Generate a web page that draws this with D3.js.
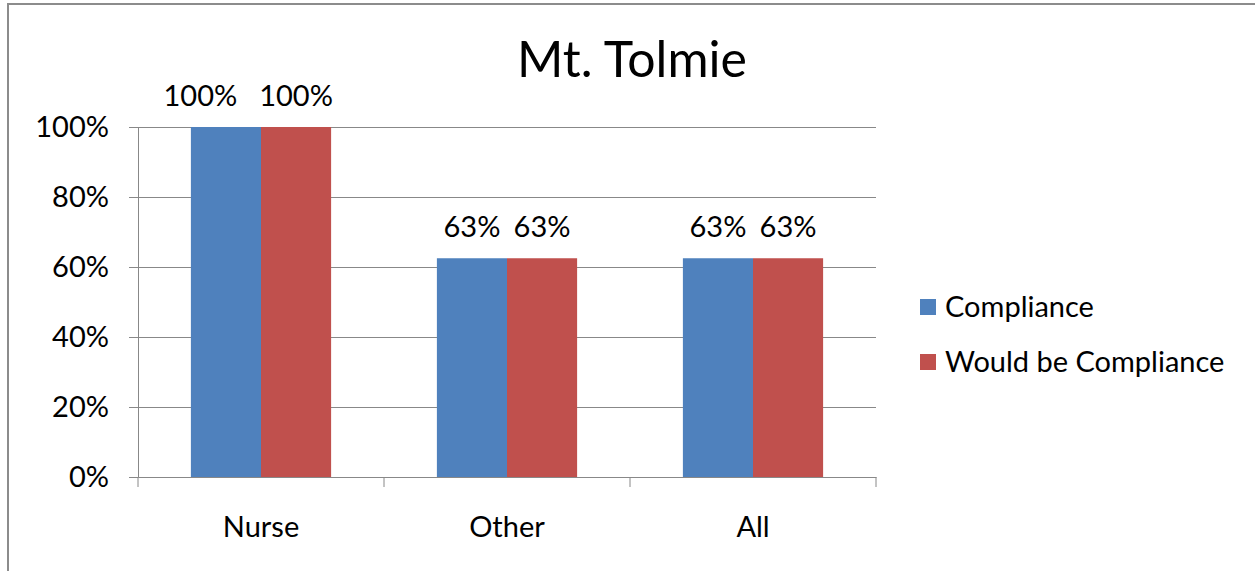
<!DOCTYPE html>
<html><head><meta charset="utf-8">
<script src="https://cdn.jsdelivr.net/npm/d3@7"></script>
<style>body{margin:0;background:#fff}svg{display:block}text{font-family:Lato,"Open Sans",sans-serif;fill:#000}</style>
</head><body>
<script>
const title = "Mt. Tolmie";
const categories = ["Nurse", "Other", "All"];
const seriesNames = ["Compliance", "Would be Compliance"];
const compliance = [1.0, 0.625, 0.625];
const wouldBeCompliance = [1.0, 0.625, 0.625];
const valueLabels = [["100%", "63%", "63%"], ["100%", "63%", "63%"]];
const yTicks = [0, 0.2, 0.4, 0.6, 0.8, 1.0];
const colors = ["#4F81BD", "#C0504D"];

const W = 1255, H = 571;
const svg = d3.select("body").append("svg").attr("width", W).attr("height", H);

// chart border
svg.append("path").attr("d", `M8,${H+2} L8,4 L${W+2},4`).attr("fill","none").attr("stroke","#8c8c8c").attr("stroke-width",2);

const x0 = d3.scaleBand().domain(categories).range([138, 876]).paddingInner(0.43).paddingOuter(0.215);
const x = d3.scaleBand().domain(d3.range(seriesNames.length)).range([0, x0.bandwidth()]);
const y = d3.scaleLinear().domain([0, 1]).range([477, 127]);

// gridlines
svg.append("g").selectAll("line").data(yTicks.filter(d => d > 0)).join("line")
  .attr("x1", 138).attr("x2", 876).attr("y1", d => y(d)).attr("y2", d => y(d))
  .attr("stroke", "#888").attr("stroke-width", 1).attr("shape-rendering","crispEdges");

// bars
const series = [compliance, wouldBeCompliance];
const groups = svg.append("g").selectAll("g").data(categories).join("g")
  .attr("transform", d => `translate(${x0(d)},0)`);
groups.selectAll("rect").data((c, i) => series.map((s, k) => ({k, v: s[i], i}))).join("rect")
  .attr("x", d => x(d.k)).attr("width", x.bandwidth())
  .attr("y", d => y(d.v)).attr("height", d => y(0) - y(d.v))
  .attr("fill", d => colors[d.k]);
groups.each(function() {
  const labels = d3.select(this).selectAll("text")
    .data(d => { const i = categories.indexOf(d); return series.map((s, k) => ({k, v: s[i], i})); })
    .join("text")
    .attr("x", d => x(d.k) + x.bandwidth() / 2).attr("y", d => y(d.v) - 21)
    .attr("text-anchor", "middle").attr("font-size", 29)
    .text(d => valueLabels[d.k][d.i]);
  // avoid overlap: shift earlier labels left like the spreadsheet does
  const nodes = labels.nodes();
  for (let j = nodes.length - 2; j >= 0; j--) {
    const a = nodes[j], b = nodes[j + 1];
    const ay = +a.getAttribute("y"), by = +b.getAttribute("y");
    if (Math.abs(ay - by) > 25) continue;
    const aw = a.getComputedTextLength(), bw = b.getComputedTextLength();
    const ax = +a.getAttribute("x"), bx = +b.getAttribute("x");
    const gap = (bx - bw / 2) - (ax + aw / 2);
    if (gap < 4) a.setAttribute("x", ax - (22 - gap));
  }
});

// y axis
const yAxis = svg.append("g").attr("transform", "translate(138,0)")
  .call(d3.axisLeft(y).tickValues(yTicks).tickFormat(d3.format(".0%")).tickSize(9).tickPadding(20));
yAxis.select(".domain").attr("stroke", "#888");
yAxis.selectAll(".tick line").attr("stroke", "#888");
yAxis.selectAll(".tick text").attr("font-size", 29).attr("font-family", "Lato").attr("fill", "#000");

// x axis
const xAxis = svg.append("g").attr("transform", "translate(0,477)")
  .call(d3.axisBottom(x0).tickSize(0).tickPadding(39));
xAxis.select(".domain").attr("stroke", "#888");
xAxis.selectAll(".tick text").attr("font-size", 29).attr("font-family", "Lato").attr("fill", "#000");
// category boundary ticks
const bounds = categories.map(c => x0(c) - x0.step() * x0.paddingInner() / 2);
bounds[0] = 138;
bounds.push(876);
svg.append("g").selectAll("line").data(bounds).join("line")
  .attr("x1", d => d).attr("x2", d => d).attr("y1", 477).attr("y2", 487)
  .attr("stroke", "#888");

// title
svg.append("text").attr("x", 632).attr("y", 77).attr("text-anchor", "middle")
  .attr("font-size", 50).text(title);

// legend
const leg = svg.append("g").selectAll("g").data(seriesNames).join("g")
  .attr("transform", (d, i) => `translate(920,${307 + i * 55})`);
leg.append("rect").attr("x", 0).attr("y", -8).attr("width", 16).attr("height", 16).attr("fill", (d, i) => colors[i]);
leg.append("text").attr("x", 25).attr("y", 10).attr("font-size", 29).text(d => d);
</script>
</body></html>
